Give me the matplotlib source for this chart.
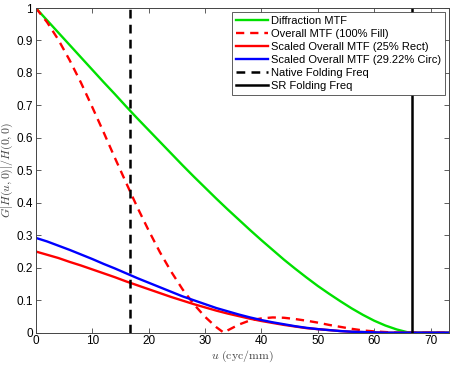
import numpy as np
import matplotlib
matplotlib.use("Agg")
import matplotlib.pyplot as plt

plt.rcParams['font.family'] = ['Liberation Sans', 'DejaVu Sans']
plt.rcParams['mathtext.fontset'] = 'cm'

# spatial frequency samples (cyc/mm)
u = [0, 2, 4, 6, 8, 10, 12, 14, 16, 18, 20, 22, 24, 26, 28, 30, 32, 34,
     36, 38, 40, 42, 44, 46, 48, 50, 52, 54, 56, 58, 60, 62, 64, 66, 66.67, 73.33]

diffraction = [1.000, 0.962, 0.924, 0.886, 0.848, 0.810, 0.772, 0.735, 0.697, 0.660, 0.624, 0.588,
               0.552, 0.516, 0.481, 0.447, 0.413, 0.380, 0.348, 0.316, 0.285, 0.255, 0.225, 0.197,
               0.170, 0.144, 0.120, 0.097, 0.075, 0.055, 0.037, 0.022, 0.010, 0.001, 0.000, 0.000]

u_overall = [0, 2, 4, 6, 8, 10, 12, 14, 16, 18, 20, 22, 24, 26, 28, 30, 32, 33.33, 34,
             36, 38, 40, 42, 44, 46, 48, 50, 52, 54, 56, 58, 60, 62, 64, 66, 66.67, 73.33]
overall = [1.000, 0.956, 0.902, 0.839, 0.770, 0.695, 0.618, 0.539, 0.462, 0.386, 0.315, 0.248,
           0.188, 0.134, 0.088, 0.049, 0.017, 0.000, 0.007, 0.025, 0.038, 0.044, 0.047, 0.046, 0.042,
           0.037, 0.031, 0.024, 0.018, 0.012, 0.007, 0.004, 0.002, 0.000, 0.000, 0.000, 0.000]

scaled_rect = [0.250, 0.240, 0.230, 0.218, 0.207, 0.195, 0.183, 0.171, 0.158, 0.146, 0.134, 0.122,
               0.110, 0.099, 0.088, 0.078, 0.068, 0.059, 0.051, 0.043, 0.036, 0.030, 0.024, 0.019,
               0.014, 0.011, 0.008, 0.005, 0.003, 0.002, 0.001, 0.000, 0.000, 0.000, 0.000, 0.000]

scaled_circ = [0.292, 0.281, 0.268, 0.255, 0.241, 0.227, 0.212, 0.198, 0.183, 0.168, 0.154, 0.140,
               0.126, 0.112, 0.100, 0.088, 0.076, 0.066, 0.056, 0.047, 0.039, 0.032, 0.026, 0.020,
               0.015, 0.011, 0.008, 0.005, 0.003, 0.002, 0.001, 0.000, 0.000, 0.000, 0.000, 0.000]

native_fold = 16.67
sr_fold = 66.67

labels = ["Diffraction MTF", "Overall MTF (100% Fill)", "Scaled Overall MTF (25% Rect)",
          "Scaled Overall MTF (29.22% Circ)", "Native Folding Freq", "SR Folding Freq"]

fig = plt.figure(figsize=(4.54, 3.65), dpi=100)
ax = fig.add_axes([0.079, 0.0885, 0.9107, 0.8895])

lw = 1.7
ax.plot(u, diffraction, color='#00e000', lw=lw, label=labels[0])
ax.plot(u_overall, overall, color='#ff0000', lw=lw, ls=(0, (3.5, 2.5)), label=labels[1])
ax.plot(u, scaled_rect, color='#ff0000', lw=lw, label=labels[2])
ax.plot(u, scaled_circ, color='#0000ff', lw=lw, label=labels[3])
ax.axvline(native_fold, color='black', lw=1.8, ls=(0, (3.5, 2.5)), label=labels[4])
ax.axvline(sr_fold, color='black', lw=1.8, label=labels[5])

ax.set_xlim(0, 73.33)
ax.set_ylim(0, 1)
ax.set_xticks([0, 10, 20, 30, 40, 50, 60, 70])
ax.set_yticks([0, 0.1, 0.2, 0.3, 0.4, 0.5, 0.6, 0.7, 0.8, 0.9, 1])
ax.set_yticklabels(['0', '0.1', '0.2', '0.3', '0.4', '0.5', '0.6', '0.7', '0.8', '0.9', '1'])
ax.tick_params(direction='in', top=True, right=True, length=3.5, width=0.6,
               labelsize=8.5, pad=2, color='#444444')
for s in ax.spines.values():
    s.set_linewidth(0.7)
    s.set_color('#444444')

ax.set_xlabel(r'$u\ \mathrm{(cyc/mm)}$', fontsize=8.5, labelpad=1, color='#444444')
ax.set_ylabel(r'$G|H(u,0)|/H(0,0)$', fontsize=8.5, labelpad=1, color='#444444')

leg = ax.legend(loc='upper right', fontsize=8, handlelength=2.9, handletextpad=0.3,
                labelspacing=0.28, borderpad=0.35, borderaxespad=0.35, fancybox=False,
                framealpha=1, edgecolor='#444444')
leg.get_frame().set_linewidth(0.6)

fig.savefig("out.png")
